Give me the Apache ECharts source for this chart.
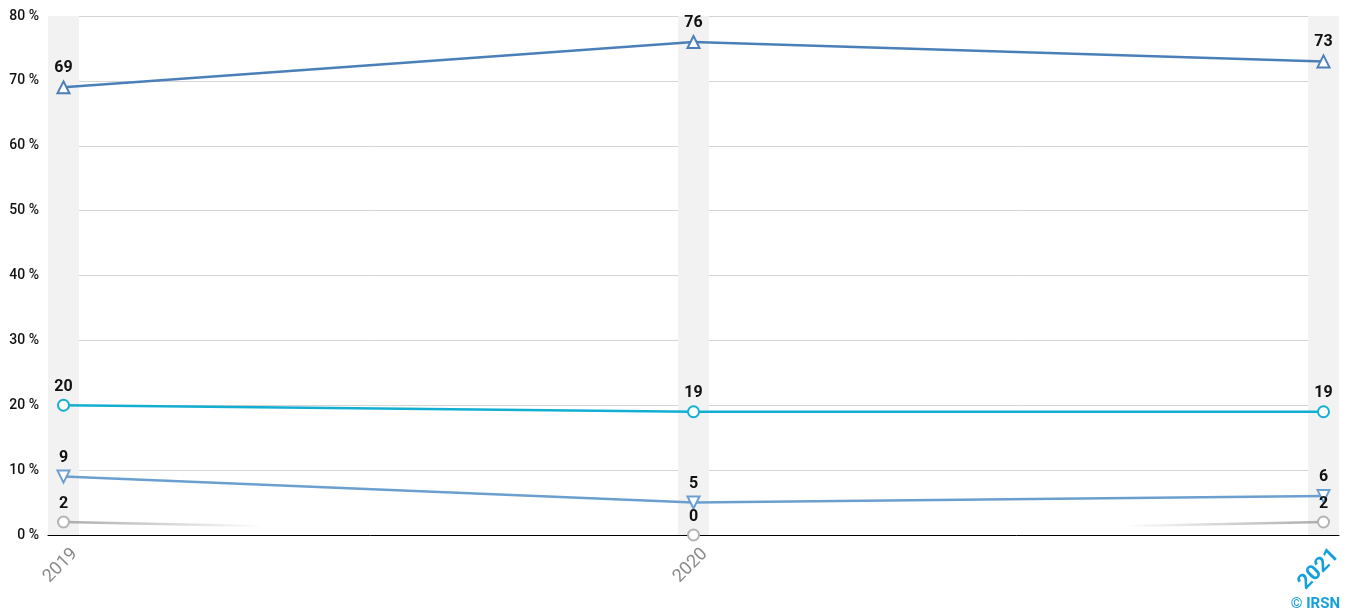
<!DOCTYPE html>
<html>
<head>
<meta charset="utf-8">
<script src="https://cdn.jsdelivr.net/npm/echarts@6/dist/echarts.min.js"></script>
<style>
html,body{margin:0;padding:0;background:#fff;}
#chart{width:1359px;height:612px;}
</style>
</head>
<body>
<div id="chart"></div>
<script>
const categories = ['2019', '2020', '2021'];
const seriesUp = [69, 76, 73];
const seriesCircle = [20, 19, 19];
const seriesDown = [9, 5, 6];
const seriesGrey = [2, 0, 2];
const yTicks = [0, 10, 20, 30, 40, 50, 60, 70, 80];

const chart = echarts.init(document.getElementById('chart'));
const yMax = yTicks[yTicks.length - 1];
const pad = 0.0246;

function pts(arr) { return arr.map((v, i) => [i, v]); }
const labelStyle = { show: true, position: 'top', distance: 4, color: '#111', fontFamily: 'Roboto', fontWeight: 'bold', fontSize: 16 };

function lineSeries(data, color, symbol, rotate, size, lineColor) {
  return {
    type: 'line', data: pts(data), symbol: symbol, symbolSize: size, symbolRotate: rotate,
    itemStyle: { color: '#fff', borderColor: color, borderWidth: 2 },
    lineStyle: { color: lineColor || color, width: 2.5 },
    label: labelStyle, z: 5, emphasis: { disabled: true }
  };
}

chart.setOption({
  animation: false,
  grid: { left: 48, right: 20, top: 16, bottom: 77 },
  xAxis: {
    type: 'value', min: -pad, max: categories.length - 1 + pad,
    splitLine: { show: false },
    axisLine: { show: true, onZero: false, lineStyle: { color: '#000', width: 1 } },
    axisTick: { show: false },
    axisLabel: {
      customValues: categories.map((c, i) => i),
      rotate: 45, margin: 5, verticalAlign: 'top', padding: [7, 0, 0, 0],
      formatter: v => {
        const i = Math.round(v);
        return i === categories.length - 1 ? '{hl|' + categories[i] + '}' : categories[i];
      },
      color: '#8a8a8a', fontFamily: 'Roboto', fontSize: 18,
      rich: { hl: { color: '#14a0dc', fontFamily: 'Roboto', fontWeight: 'bold', fontSize: 21 } }
    }
  },
  yAxis: {
    type: 'value', min: 0, max: yMax, interval: 10,
    axisLine: { show: false }, axisTick: { show: false },
    splitLine: { lineStyle: { color: '#d4d4d4', width: 1 } },
    axisLabel: { formatter: '{value} %', color: '#111', fontFamily: 'Roboto', fontWeight: 500, fontSize: 14, margin: 9 }
  },
  graphic: [{
    type: 'text', right: 19, bottom: 0,
    style: { text: '© IRSN', fill: '#14a0dc', font: 'bold 15px Roboto' }
  }],
  series: [
    {
      type: 'bar', data: categories.map((c, i) => [i, yMax]), barWidth: 31,
      itemStyle: { color: '#f2f2f2' }, z: 0, silent: true, emphasis: { disabled: true }
    },
    lineSeries(seriesGrey, '#b3b3b3', 'circle', 0, 11,
      new echarts.graphic.LinearGradient(0, 0, 1, 0, [
        { offset: 0, color: 'rgba(170,170,170,1)' },
        { offset: 0.16, color: 'rgba(170,170,170,0)' },
        { offset: 0.84, color: 'rgba(170,170,170,0)' },
        { offset: 1, color: 'rgba(170,170,170,1)' }
      ])),
    lineSeries(seriesDown, '#6a9fcf', 'triangle', 180, 12),
    lineSeries(seriesCircle, '#12afd3', 'circle', 0, 11),
    lineSeries(seriesUp, '#4a7fb8', 'triangle', 0, 12)
  ]
});
</script>
</body>
</html>
